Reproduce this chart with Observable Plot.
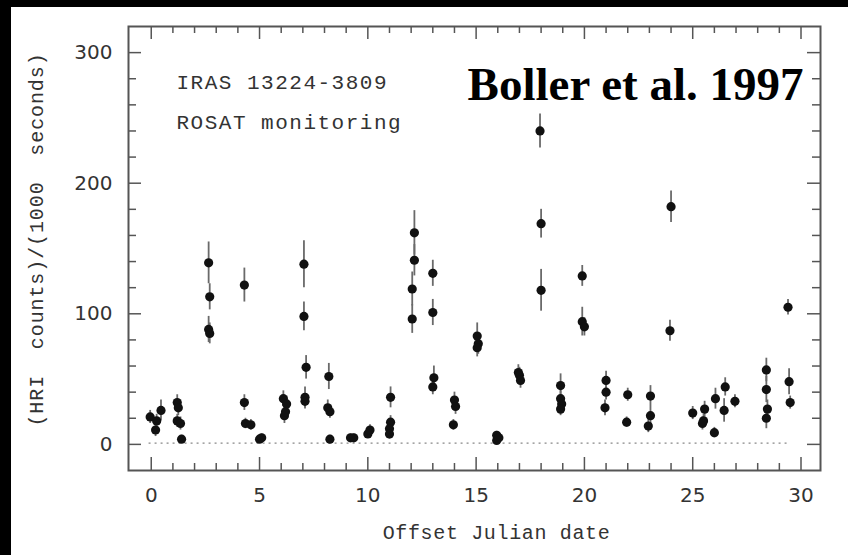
<!DOCTYPE html>
<html>
<head>
<meta charset="utf-8">
<script src="https://cdn.jsdelivr.net/npm/d3@7"></script>
<script src="https://cdn.jsdelivr.net/npm/@observablehq/plot@0.6"></script>
<style>
  html, body { margin: 0; padding: 0; background: #000; }
  #wrap { padding-left: 11px; padding-top: 7px; width: 837px; height: 548px; }
</style>
</head>
<body>
<div id="wrap"></div>
<script>
// Observation times (offset Julian date)
const days = [
  -0.05, 0.25, 0.2, 0.45,
  1.2, 1.25, 1.2, 1.35, 1.4,
  2.65, 2.7, 2.65, 2.7,
  4.3, 4.3, 4.35, 4.6,
  5.0, 5.1,
  6.1, 6.25, 6.15, 6.2,
  7.05, 7.05, 7.15, 7.1, 7.1,
  8.2, 8.15, 8.25, 8.25,
  9.2, 9.35,
  10.0, 10.1,
  11.05, 11.05, 11.0, 11.0,
  12.15, 12.15, 12.05, 12.05,
  13.0, 13.0, 13.05, 13.0,
  14.0, 14.05, 13.95,
  15.05, 15.1, 15.05,
  15.95, 15.95, 16.05,
  16.95, 17.0, 17.05,
  17.95, 18.0, 18.0,
  18.9, 18.9, 18.95, 18.9,
  19.9, 19.9, 20.0,
  21.0, 21.0, 20.95,
  22.0, 21.95,
  23.05, 23.05, 22.95,
  24.0, 23.95,
  25.0,
  25.55, 25.5, 25.45,
  26.0, 26.05, 26.5, 26.45, 26.95,
  28.4, 28.4, 28.45, 28.4,
  29.4, 29.45, 29.5
];
// HRI count rate (counts per 1000 s)
const rates = [
  21, 18, 11, 26,
  32, 28, 18, 16, 4,
  139, 113, 88, 85,
  122, 32, 16, 15,
  4, 5,
  35, 31, 22, 25,
  138, 98, 59, 36, 33,
  52, 28, 25, 4,
  5, 5,
  8, 11,
  36, 17, 12, 8,
  162, 141, 119, 96,
  131, 101, 51, 44,
  34, 29, 15,
  83, 77, 74,
  7, 3, 5,
  55, 53, 49,
  240, 169, 118,
  45, 35, 31, 27,
  129, 94, 90,
  49, 40, 28,
  38, 17,
  37, 22, 14,
  182, 87,
  24,
  27, 18, 16,
  9, 35, 44, 26, 33,
  57, 42, 27, 20,
  105, 48, 32
];
// 1-sigma errors
const errors = [
  5, 5, 5, 8,
  6, 6, 5, 5, 3,
  16, 10, 10, 8,
  13, 6, 4, 4,
  3, 3,
  6, 6, 6, 5,
  18, 11, 9, 8, 6,
  10, 6, 5, 3,
  3, 3,
  3, 4,
  8, 5, 4, 4,
  17, 12, 13, 11,
  10, 10, 9, 6,
  6, 6, 4,
  10, 8, 7,
  3, 3, 3,
  6, 6, 6,
  13, 11, 16,
  9, 6, 5, 5,
  8, 11, 7,
  7, 6, 6,
  5, 4,
  8, 7, 5,
  12, 8,
  5,
  6, 5, 5,
  4, 8, 7, 9, 5,
  9, 10, 7, 8,
  6, 10, 5
];
// Dotted background level
const bgLevel = [{x1: -0.1, x2: 29.4, y: 1}];

// Tick positions and labels
const xMinorTicks = d3.range(0, 31, 1);
const xMajorTicks = [0, 5, 10, 15, 20, 25, 30];
const yMinorTicks = d3.range(0, 320, 20);
const yMajorTicks = [0, 100, 200, 300];

const xTitle = "Offset Julian date";
const yTitle = "(HRI  counts)/(1000  seconds)";
const annot = "IRAS 13224-3809\nROSAT monitoring";
const credit = "Boller et al. 1997";

const points = days.map((d, i) => ({day: d, rate: rates[i], err: errors[i]}));

const W = 837, H = 548, mL = 117, mR = 28, mT = 19, mB = 85;
const fw = W - mL - mR, fh = H - mT - mB;
const ink = "#555";
const txt = "#333";

const chart = Plot.plot({
  width: W, height: H,
  marginLeft: mL, marginRight: mR, marginTop: mT, marginBottom: mB,
  x: {domain: [-1.05, 30.9]},
  y: {domain: [-20, 320]},
  style: {background: "white", fontFamily: "DejaVu Sans", fontSize: "20px", color: txt},
  marks: [
    // inward ticks
    Plot.ruleX(xMinorTicks.filter(t => !xMajorTicks.includes(t)), {x: d => d, insetTop: fh - 7, stroke: ink, strokeWidth: 1.5}),
    Plot.ruleX(xMajorTicks, {x: d => d, insetTop: fh - 13, stroke: ink, strokeWidth: 1.5}),
    Plot.ruleX(xMinorTicks.filter(t => !xMajorTicks.includes(t)), {x: d => d, insetBottom: fh - 7, stroke: ink, strokeWidth: 1.5}),
    Plot.ruleX(xMajorTicks, {x: d => d, insetBottom: fh - 13, stroke: ink, strokeWidth: 1.5}),
    Plot.ruleY(yMinorTicks.filter(t => !yMajorTicks.includes(t)), {y: d => d, insetRight: fw - 8, stroke: ink, strokeWidth: 1.5}),
    Plot.ruleY(yMajorTicks, {y: d => d, insetRight: fw - 13, stroke: ink, strokeWidth: 1.5}),
    Plot.ruleY(yMinorTicks.filter(t => !yMajorTicks.includes(t)), {y: d => d, insetLeft: fw - 8, stroke: ink, strokeWidth: 1.5}),
    Plot.ruleY(yMajorTicks, {y: d => d, insetLeft: fw - 13, stroke: ink, strokeWidth: 1.5}),
    Plot.frame({stroke: ink, strokeWidth: 2}),
    // dotted background level
    Plot.ruleY(bgLevel, {y: "y", x1: "x1", x2: "x2", stroke: "#888", strokeWidth: 1.2, strokeDasharray: "2,4"}),
    // error bars
    Plot.ruleX(points, {x: "day", y1: d => d.rate - d.err, y2: d => d.rate + d.err, stroke: "#6a6a6a", strokeWidth: 1.8}),
    // data points
    Plot.dot(points, {x: "day", y: "rate", r: 4.6, fill: "#111", stroke: "none"}),
    // axes labels
    Plot.axisX(xMajorTicks, {tickSize: 0, tickPadding: 17, label: null, fill: txt, fontSize: 20}),
    Plot.axisY(yMajorTicks, {tickSize: 0, tickPadding: 16, label: null, fill: txt, fontSize: 20}),
    Plot.text([xTitle], {frameAnchor: "bottom", text: d => d, dx: 22, dy: 54, lineAnchor: "top", textAnchor: "middle",
      fontFamily: "Liberation Mono", fontSize: 20, fill: txt}),
    Plot.text([yTitle], {frameAnchor: "left", text: d => d, rotate: -90, dx: -92, dy: -9, lineAnchor: "middle", textAnchor: "middle",
      fontFamily: "Liberation Mono", fontSize: 20, fill: txt}),
    // annotations
    Plot.text([annot], {frameAnchor: "top-left", text: d => d, dx: 48, dy: 34, lineAnchor: "top", textAnchor: "start",
      lineHeight: 1.9, fontFamily: "Liberation Mono", fontSize: 21, fill: txt}),
    Plot.text([credit], {frameAnchor: "top-right", text: d => d, dx: -17, dy: 40, lineAnchor: "top", textAnchor: "end",
      fontFamily: "Liberation Serif", fontWeight: "bold", fontSize: 47, fill: "#000"})
  ]
});
// letter spacing for the typewriter-style texts
const spacing = new Map([[xTitle, "0.65px"], [yTitle, "0.9px"], ["IRAS 13224-3809", "1.5px"], ["ROSAT monitoring", "1.5px"]]);
d3.select(chart).selectAll("text, tspan").each(function() {
  const s = spacing.get(this.textContent);
  if (s) this.setAttribute("letter-spacing", s);
});
document.getElementById("wrap").appendChild(chart);
</script>
</body>
</html>
